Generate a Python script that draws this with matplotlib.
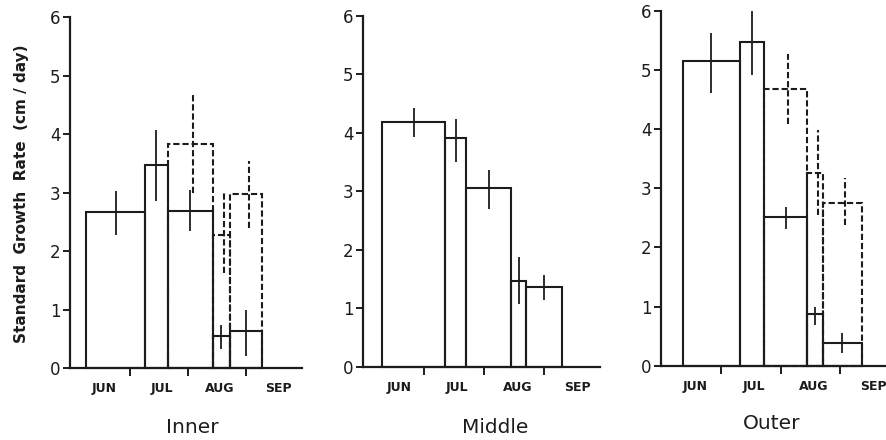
import matplotlib
matplotlib.use("Agg")
import matplotlib.pyplot as plt

# ---------------- data (x in months from the start of June) ----------------
months = ["JUN", "JUL", "AUG", "SEP"]
month_label_pos = [0.57, 1.55, 2.55, 3.55]
yticks = [0, 1, 2, 3, 4, 5, 6]

inner_edges = [0.26, 1.26, 1.66, 2.42, 2.72, 3.27]
inner_solid = [2.67, 3.47, 2.68, 0.54, 0.64]
inner_solid_hi = [3.02, 4.08, 3.04, 0.74, 0.99]
inner_solid_lo = [2.28, 2.85, 2.34, 0.32, 0.21]
inner_dashed = [3.84, 2.28, 2.98]          # bars 3-5
inner_dashed_hi = [4.67, 2.99, 3.55]
inner_dashed_lo = [2.99, 1.62, 2.39]

middle_edges = [0.30, 1.34, 1.70, 2.44, 2.70, 3.29]
middle_solid = [4.18, 3.91, 3.06, 1.47, 1.37]
middle_solid_hi = [4.42, 4.24, 3.36, 1.87, 1.57]
middle_solid_lo = [3.92, 3.50, 2.69, 1.07, 1.14]

outer_edges = [0.36, 1.32, 1.73, 2.45, 2.71, 3.36]
outer_solid = [5.16, 5.47, 2.52, 0.87, 0.39]
outer_solid_hi = [5.63, 6.00, 2.69, 1.00, 0.56]
outer_solid_lo = [4.62, 4.92, 2.32, 0.69, 0.22]
outer_dashed = [4.68, 3.26, 2.75]
outer_dashed_hi = [5.27, 3.99, 3.17]
outer_dashed_lo = [4.09, 2.55, 2.38]

panel_names = ["Inner", "Middle", "Outer"]

# ---------------- style ----------------
INK = "#1c1c1c"
W, H = 887, 440
DASH = (0, (3.0, 1.4))

fig = plt.figure(figsize=(W / 100, H / 100), dpi=100)
fig.patch.set_facecolor("white")


def px_axes(x0, x1, ytop, ybot):
    return [x0 / W, 1 - ybot / H, (x1 - x0) / W, (ybot - ytop) / H]


panels = [
    dict(rect=px_axes(70, 302, 17.3, 368), xlim=(-0.02, 3.95),
         edges=inner_edges, solid=inner_solid, shi=inner_solid_hi, slo=inner_solid_lo,
         dashed=inner_dashed, dhi=inner_dashed_hi, dlo=inner_dashed_lo,
         title_xy=(192, 427)),
    dict(rect=px_axes(363.3, 600, 15.7, 366.7), xlim=(-0.02, 3.93),
         edges=middle_edges, solid=middle_solid, shi=middle_solid_hi, slo=middle_solid_lo,
         dashed=None, dhi=None, dlo=None,
         title_xy=(495, 427)),
    dict(rect=px_axes(661, 887, 11, 365.7), xlim=(0.0, 3.78),
         edges=outer_edges, solid=outer_solid, shi=outer_solid_hi, slo=outer_solid_lo,
         dashed=outer_dashed, dhi=outer_dashed_hi, dlo=outer_dashed_lo,
         title_xy=(772, 423)),
]

for name, p in zip(panel_names, panels):
    ax = fig.add_axes(p["rect"])
    ax.set_facecolor("none")
    edges = p["edges"]
    lefts = edges[:-1]
    widths = [b - a for a, b in zip(edges[:-1], edges[1:])]
    mids = [a + w / 2 for a, w in zip(lefts, widths)]

    # dashed bars (last three intervals)
    if p["dashed"] is not None:
        dl = lefts[2:]
        dw = widths[2:]
        ax.bar(dl, p["dashed"], width=dw, align="edge", fill=False,
               edgecolor=INK, linewidth=1.5, linestyle=DASH, zorder=2, clip_on=False)
        dm = [m + 0.04 for m in mids[2:]]
        lo = [v - l for v, l in zip(p["dashed"], p["dlo"])]
        hi = [h - v for v, h in zip(p["dashed"], p["dhi"])]
        eb = ax.errorbar(dm, p["dashed"], yerr=[lo, hi], fmt="none",
                         ecolor=INK, elinewidth=1.5, capsize=0, zorder=2, clip_on=False)
        for lc in eb[2]:
            lc.set_linestyle(DASH)

    # solid bars
    ax.bar(lefts, p["solid"], width=widths, align="edge", fill=False,
           edgecolor=INK, linewidth=1.5, zorder=3, clip_on=False)
    lo = [v - l for v, l in zip(p["solid"], p["slo"])]
    hi = [h - v for v, h in zip(p["solid"], p["shi"])]
    ax.errorbar(mids, p["solid"], yerr=[lo, hi], fmt="none", ecolor=INK,
                elinewidth=1.3, capsize=0, zorder=3, clip_on=False)

    ax.set_xlim(*p["xlim"])
    ax.set_ylim(0, 6)
    for s in ["top", "right"]:
        ax.spines[s].set_visible(False)
    for s in ["left", "bottom"]:
        ax.spines[s].set_linewidth(1.6)
        ax.spines[s].set_color(INK)

    ax.set_yticks(yticks)
    ax.set_yticklabels([str(t) for t in yticks], fontsize=12, color=INK)
    ax.tick_params(axis="y", direction="out", length=5, width=1.4, pad=2, colors=INK)

    ax.set_xticks([1, 2, 3])
    ax.set_xticklabels([])
    ax.tick_params(axis="x", which="major", direction="out", length=5.5, width=1.4, colors=INK)
    ax.set_xticks(month_label_pos, minor=True)
    ax.set_xticklabels(months, minor=True, fontsize=9, fontweight="bold", color=INK)
    ax.tick_params(axis="x", which="minor", length=0, pad=10)

    fig.text(p["title_xy"][0] / W, 1 - p["title_xy"][1] / H, name,
             ha="center", va="center", fontsize=14.5, color=INK)

fig.text(21.7 / W, 1 - 193.4 / H, "Standard  Growth  Rate  (cm / day)",
         rotation=90, ha="center", va="center", fontsize=11, fontweight="bold", color=INK)

fig.savefig("out.png", dpi=100, facecolor="white")
